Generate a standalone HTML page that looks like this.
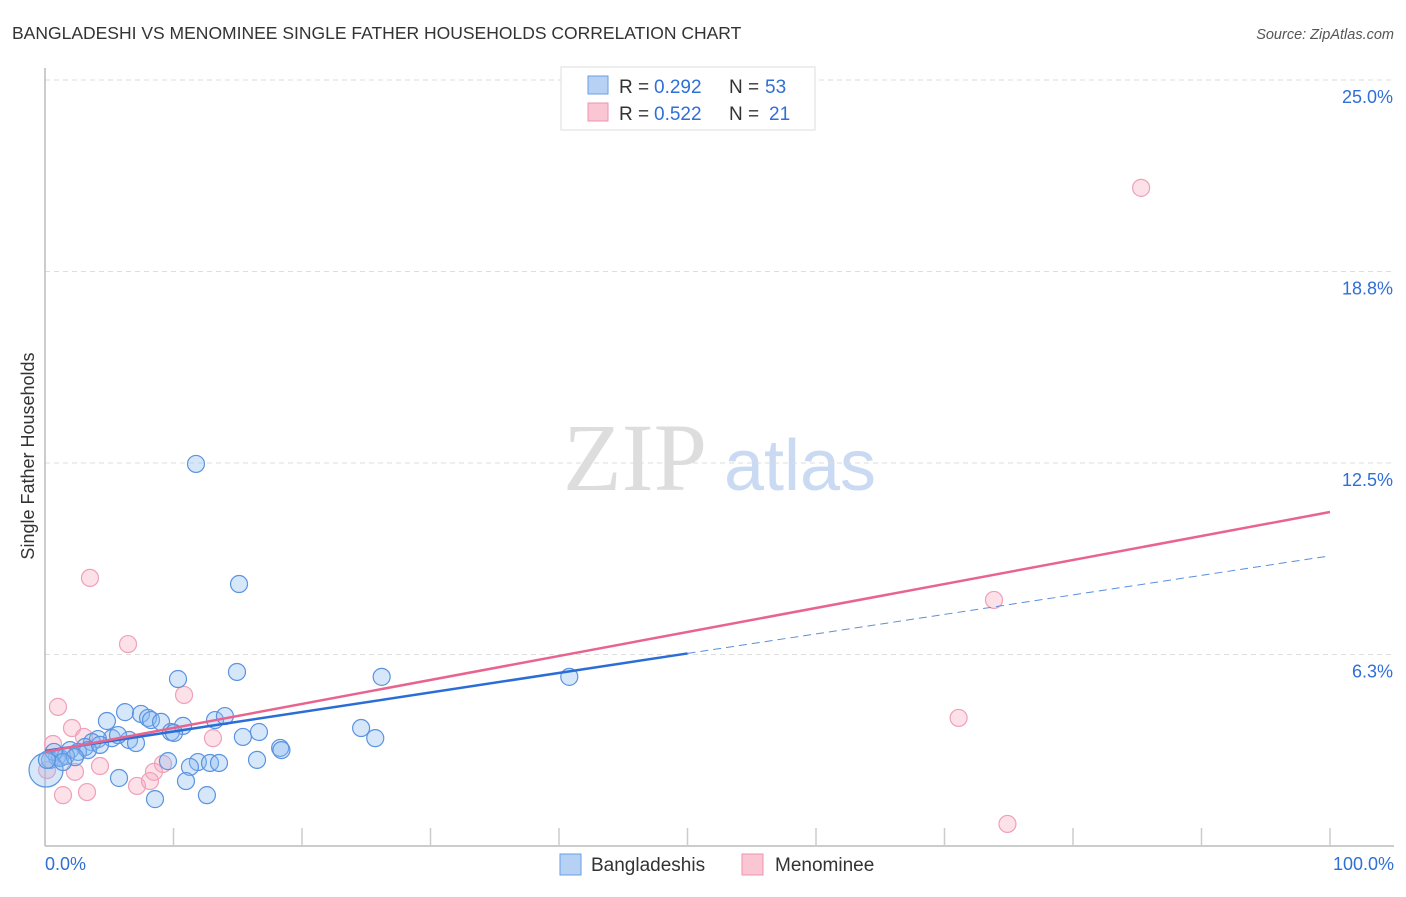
<!DOCTYPE html>
<html><head><meta charset="utf-8"><style>
body{margin:0;background:#fff;font-family:"Liberation Sans",sans-serif;}
</style></head><body>
<svg id="chart" width="1406" height="892" font-family="Liberation Sans, sans-serif">
<text x="12" y="39" font-size="17.5" fill="#333">BANGLADESHI VS MENOMINEE SINGLE FATHER HOUSEHOLDS CORRELATION CHART</text>
<text x="1394" y="39" font-size="14.5" fill="#555" font-style="italic" text-anchor="end">Source: ZipAtlas.com</text>
<g>
<text x="635" y="490" font-size="96" fill="#ddd" text-anchor="middle" style="font-family:'Liberation Serif',serif">ZIP</text>
<text x="800" y="490" font-size="72" fill="#c9daf2" text-anchor="middle">atlas</text>
</g>
<text transform="translate(34,456) rotate(-90)" font-size="18" fill="#333" text-anchor="middle">Single Father Households</text>
<g id="grid"></g><g id="axes"></g><g id="pts"></g><g id="trends"></g>
<g>
<rect x="561" y="67" width="254" height="63" fill="#fff" stroke="#ddd"/>
<rect x="588" y="76" width="20" height="18" fill="#b7d1f5" stroke="#6a9ee6"/>
<rect x="588" y="103" width="20" height="18" fill="#fac6d4" stroke="#ec93ad"/>
<text x="619" y="93" font-size="19" fill="#333">R =</text>
<text x="654" y="93" font-size="19" fill="#2f6fd6">0.292</text>
<text x="729" y="93" font-size="19" fill="#333">N =</text>
<text x="765" y="93" font-size="19" fill="#2f6fd6">53</text>
<text x="619" y="120" font-size="19" fill="#333">R =</text>
<text x="654" y="120" font-size="19" fill="#2f6fd6">0.522</text>
<text x="729" y="120" font-size="19" fill="#333">N =</text>
<text x="769" y="120" font-size="19" fill="#2f6fd6">21</text>
</g>
<g>
<rect x="560" y="854" width="21" height="21" fill="#b7d1f5" stroke="#6a9ee6"/>
<text x="591" y="871" font-size="19" fill="#333">Bangladeshis</text>
<rect x="742" y="854" width="21" height="21" fill="#fac6d4" stroke="#ec93ad"/>
<text x="775" y="871" font-size="19" fill="#333">Menominee</text>
</g>
</svg>
<script>
const yTicks=[6.25,12.5,18.75,25];
const yTickLabels=["6.3%","12.5%","18.8%","25.0%"];
const xTickLabels=["0.0%","100.0%"];
const blueX=[11.75,15.1,14.94,10.35,26.2,40.8,6.23,7.47,8.02,8.25,4.82,9.03,10.74,13.23,14.0,9.8,10.04,24.6,25.7,16.65,15.4,6.54,7.08,5.21,5.68,4.12,3.66,3.11,1.95,2.57,0.93,0.39,1.17,1.63,0.7,0.08,9.57,11.9,12.84,13.54,11.28,18.3,18.4,16.5,5.76,10.97,12.6,8.56,3.35,4.28,2.33,1.4,0.15];
const blueY=[12.47,8.55,5.68,5.45,5.52,5.52,4.37,4.31,4.18,4.11,4.08,4.05,3.92,4.11,4.24,3.72,3.69,3.85,3.52,3.72,3.56,3.46,3.36,3.52,3.62,3.49,3.39,3.23,3.13,3.07,2.9,2.81,2.87,2.94,3.07,2.48,2.77,2.74,2.71,2.71,2.58,3.2,3.13,2.81,2.22,2.12,1.66,1.53,3.13,3.3,2.9,2.74,2.81];
const pinkX=[85.3,3.5,6.46,73.85,10.82,1.01,71.1,2.1,3.03,13.07,0.62,4.28,9.18,8.48,2.33,7.16,8.17,1.4,3.27,74.9,0.16];
const pinkY=[21.48,8.75,6.59,8.03,4.93,4.54,4.18,3.85,3.56,3.52,3.33,2.61,2.68,2.42,2.42,1.96,2.12,1.66,1.76,0.72,2.48];
const blueTrend=[3.1,9.47];
const pinkTrend=[3.07,10.9];
const X0=45,X1=1330,Y0=846,PX_PER=30.64;
const sx=v=>X0+(X1-X0)*v/100;
const sy=v=>Y0-v*PX_PER;
const NS="http://www.w3.org/2000/svg";
function mk(t,a,p){const e=document.createElementNS(NS,t);for(const k in a)e.setAttribute(k,a[k]);p.appendChild(e);return e;}
const grid=document.getElementById('grid'),axes=document.getElementById('axes');
yTicks.forEach((t,i)=>{
 const l=mk('line',{x1:45,x2:1394,y1:sy(t),y2:sy(t),stroke:'#ddd','stroke-dasharray':'5,4'},grid);
 
 
 const tx=mk('text',{x:1393,y:sy(t)+23,'font-size':18,fill:'#2f6fd6','text-anchor':'end'},grid);
 tx.textContent=yTickLabels[i];
 
 
});
const topLine=mk('line',{x1:45,x2:1394,y1:80,y2:80,stroke:'#ddd','stroke-dasharray':'5,4'},grid);


const ya=mk('line',{x1:45,x2:45,y1:68,y2:846,stroke:'#bbb','stroke-width':1.5},axes);


const xa=mk('line',{x1:45,x2:1394,y1:846,y2:846,stroke:'#bbb','stroke-width':1.5},axes);


for(let i=1;i<=10;i++){const tk=mk('line',{x1:sx(i*10),x2:sx(i*10),y1:828,y2:846,stroke:'#ccc','stroke-width':1.5},axes);
 
 }
const xl0=mk('text',{x:45,y:870,'font-size':18,fill:'#2f6fd6'},axes);xl0.textContent=xTickLabels[0];


const xl1=mk('text',{x:1394,y:870,'font-size':18,fill:'#2f6fd6','text-anchor':'end'},axes);xl1.textContent=xTickLabels[1];


const pts=document.getElementById('pts');
pinkX.forEach((x,i)=>{const c=mk('circle',{cx:sx(x),cy:sy(pinkY[i]),r:8.5,fill:'rgba(246,170,192,0.35)',stroke:'#f0a0b8','stroke-width':1.2},pts);
 
 });
blueX.forEach((x,i)=>{const big=(i===35);const c=mk('circle',{cx:sx(x),cy:sy(blueY[i]),r:big?17:8.5,fill:'rgba(140,185,240,0.35)',stroke:'#5a93e0','stroke-width':1.2},pts);
 
 });
const tr=document.getElementById('trends');
const by=x=>blueTrend[0]+(blueTrend[1]-blueTrend[0])*x/100;
const bs=mk('line',{x1:sx(0),y1:sy(by(0)),x2:sx(50),y2:sy(by(50)),stroke:'#2a6dd6','stroke-width':2.5},tr);


const bd=mk('line',{x1:sx(50),y1:sy(by(50)),x2:sx(100),y2:sy(by(100)),stroke:'#5a8fdc','stroke-width':1,'stroke-dasharray':'8,5'},tr);


const pl=mk('line',{x1:sx(0),y1:sy(pinkTrend[0]),x2:sx(100),y2:sy(pinkTrend[1]),stroke:'#e8648e','stroke-width':2.5},tr);


</script>
</body></html>
